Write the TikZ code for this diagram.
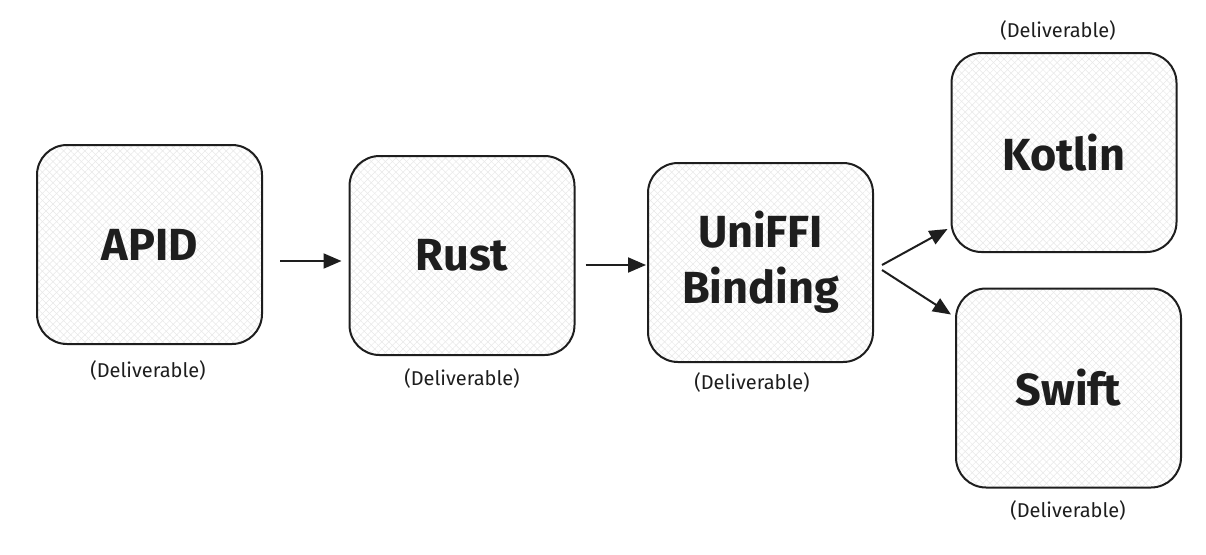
\documentclass[tikz,border=0pt]{standalone}
\usepackage{fontspec}
\setmainfont{Fira Sans}
\usetikzlibrary{arrows.meta,patterns.meta}
\definecolor{ink}{HTML}{1E1E1E}
\begin{document}
\begin{tikzpicture}[x=1pt,y=-1pt,
	box/.style={draw=ink, line width=2pt, rounded corners=30pt,
		minimum width=225pt, minimum height=199pt,
		preaction={fill=white},
		preaction={pattern={Lines[angle=45,distance=5pt,line width=0.5pt]}, pattern color=gray!18},
		preaction={pattern={Lines[angle=-45,distance=5pt,line width=0.5pt]}, pattern color=gray!18},
		text=ink, font=\fontsize{45}{56}\selectfont\bfseries, align=center},
	tag/.style={text=ink, font=\fontsize{20}{24}\selectfont},
	arr/.style={draw=ink, line width=2pt, -{Triangle[length=18pt,width=15pt]}}]
	\useasboundingbox (0,0) rectangle (1206,554);
	% boxes
	\node[box] (apid) at (149.5,244.5) {APID};
	\node[box] (rust) at (462,255.5) {Rust};
	\node[box] (uniffi) at (760.5,262.5) {UniFFI\\Binding};
	\node[box] (kotlin) at (1064,152.5) {Kotlin};
	\node[box] (swift) at (1068.5,388) {Swift};
	% labels
	\node[tag] (apidtag) at (148,370) {(Deliverable)};
	\node[tag] (rusttag) at (462,378) {(Deliverable)};
	\node[tag] (uniffitag) at (752,382) {(Deliverable)};
	\node[tag] (kotlintag) at (1058,30) {(Deliverable)};
	\node[tag] (swifttag) at (1068,510) {(Deliverable)};
	% arrows
	\draw[arr] ([shift={(17,16.5)}]apid.east) -- ([shift={(-7,5.5)}]rust.west);
	\draw[arr] ([shift={(10,9.5)}]rust.east) -- ([shift={(-1,2.5)}]uniffi.west);
	\draw[arr] ([shift={(8,2.5)}]uniffi.east) -- ([shift={(-3,-24)}]kotlin.south west);
	\draw[arr] ([shift={(8,7.5)}]uniffi.east) -- ([shift={(-4,27)}]swift.north west);
\end{tikzpicture}
\end{document}
